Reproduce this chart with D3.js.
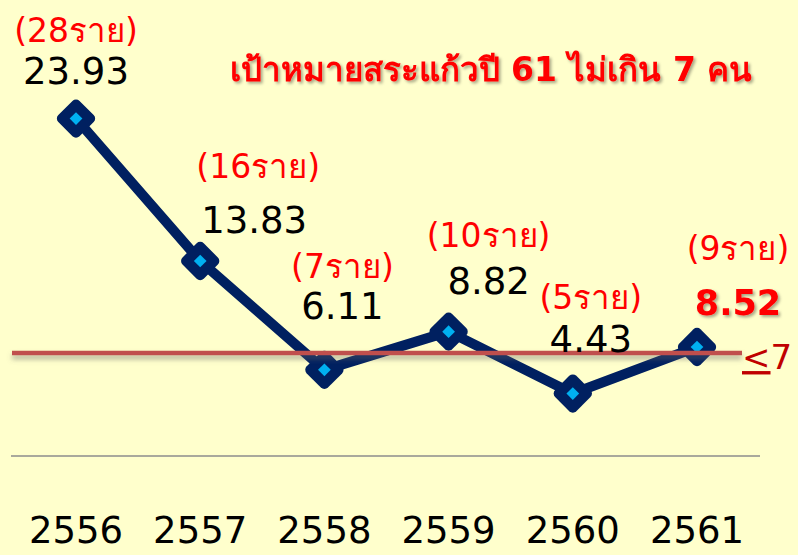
<!DOCTYPE html>
<html>
<head>
<meta charset="utf-8">
<script src="https://d3js.org/d3.v7.min.js"></script>
<style>
  body { margin: 0; background: #ffffcc; }
  svg { display: block; }
</style>
</head>
<body>
<svg id="chart" width="798" height="555"></svg>
<script>
// data
var years = ["2556", "2557", "2558", "2559", "2560", "2561"];
var rates = ["23.93", "13.83", "6.11", "8.82", "4.43", "8.52"];
var plotted = [23.93, 13.83, 6.11, 8.82, 4.43, 7.73]; // last point sits lower than its label in the original
var cases = [28, 16, 7, 10, 5, 9];
var target = 7.3;
var title = "เป้าหมายสระแก้วปี 61 ไม่เกิน 7 คน";

// label nudges [dx, dy value, dy count] from the point
var nudge = [[0, -35, -77], [54, -28, -83], [18, -51, -92], [40, -38, -85], [18, -42, -85], [41, -32, -87]];

var svg = d3.select("#chart");

var defs = svg.append("defs");
var sh = defs.append("filter").attr("id", "shadow").attr("x", "-10%").attr("y", "-20%").attr("width", "130%").attr("height", "160%");
sh.append("feDropShadow").attr("dx", 2).attr("dy", 2).attr("stdDeviation", 1.5)
  .attr("flood-color", "#000").attr("flood-opacity", 0.35);
var sh2 = defs.append("filter").attr("id", "lineshadow")
  .attr("filterUnits", "userSpaceOnUse")
  .attr("x", 0).attr("y", 300).attr("width", 798).attr("height", 100);
sh2.append("feDropShadow").attr("dx", 0).attr("dy", 4).attr("stdDeviation", 2.5)
  .attr("flood-color", "#666").attr("flood-opacity", 0.5);

var x = d3.scalePoint().domain(years).range([76, 697]);
var y = d3.scaleLinear().domain([0, 25]).range([456, 103.5]);

// baseline
svg.append("line")
  .attr("x1", 11).attr("x2", 760)
  .attr("y1", y(0)).attr("y2", y(0))
  .attr("stroke", "#8c8c8c").attr("stroke-width", 1.5);

// year labels
svg.selectAll(".year")
  .data(years)
  .enter().append("text")
  .attr("class", "year")
  .attr("x", function(d) { return x(d); })
  .attr("y", 543)
  .attr("text-anchor", "middle")
  .style("font-family", "DejaVu Sans")
  .style("font-size", "37px")
  .attr("fill", "#000")
  .text(function(d) { return d; });

var pts = years.map(function(d, i) { return [x(d), y(plotted[i])]; });

svg.append("path")
  .attr("d", d3.line()(pts))
  .attr("fill", "none")
  .attr("stroke", "#002060")
  .attr("stroke-width", 10)
  .attr("stroke-linejoin", "round");

var mk = svg.selectAll(".mk")
  .data(pts)
  .enter().append("g")
  .attr("class", "mk")
  .attr("transform", function(d) { return "translate(" + d[0] + "," + d[1] + ") rotate(45)"; });
mk.append("rect")
  .attr("x", -15).attr("y", -15).attr("width", 30).attr("height", 30)
  .attr("rx", 5)
  .attr("fill", "#002060");
mk.append("rect")
  .attr("x", -4.5).attr("y", -4.5).attr("width", 9).attr("height", 9)
  .attr("fill", "#00b0f0");

// target line
svg.append("line")
  .attr("x1", 12).attr("x2", 742)
  .attr("y1", y(target)).attr("y2", y(target))
  .attr("stroke", "#c0504d").attr("stroke-width", 4.5)
  .attr("filter", "url(#lineshadow)");

var tl = svg.append("text")
  .attr("x", 742).attr("y", y(target) + 16)
  .style("font-family", "DejaVu Sans")
  .style("font-size", "34px")
  .attr("fill", "#c00000");
tl.append("tspan").style("text-decoration", "underline").text("<");
tl.append("tspan").text("7");

// value labels
svg.selectAll(".val")
  .data(rates)
  .enter().append("text")
  .attr("class", "val")
  .attr("x", function(d, i) { return pts[i][0] + nudge[i][0]; })
  .attr("y", function(d, i) { return pts[i][1] + nudge[i][1]; })
  .attr("text-anchor", "middle")
  .style("font-family", "DejaVu Sans")
  .style("font-size", function(d, i) { return i == 5 ? "35px" : "37px"; })
  .style("font-weight", function(d, i) { return i == 5 ? "bold" : "normal"; })
  .attr("fill", function(d, i) { return i == 5 ? "#ff0000" : "#000"; })
  .attr("filter", function(d, i) { return i == 5 ? "url(#shadow)" : null; })
  .text(function(d) { return d; });

// case counts
svg.selectAll(".cnt")
  .data(cases)
  .enter().append("text")
  .attr("class", "cnt")
  .attr("x", function(d, i) { return pts[i][0] + nudge[i][0] - (i == 1 ? -4 : 0); })
  .attr("y", function(d, i) { return pts[i][1] + nudge[i][2]; })
  .attr("text-anchor", "middle")
  .style("font-family", "Tahoma, 'DejaVu Sans', sans-serif")
  .style("font-size", "33px")
  .attr("fill", "#ff0000")
  .text(function(d) { return "(" + d + "ราย)"; });

// title
svg.append("text")
  .attr("x", 491).attr("y", 81)
  .attr("text-anchor", "middle")
  .style("font-family", "Tahoma, 'DejaVu Sans', sans-serif")
  .style("font-size", "33px")
  .style("font-weight", "bold")
  .attr("fill", "#ff0000")
  .attr("filter", "url(#shadow)")
  .text(title);
</script>
</body>
</html>
